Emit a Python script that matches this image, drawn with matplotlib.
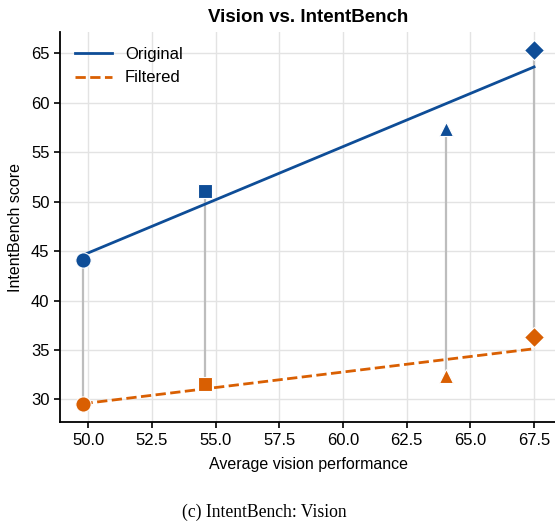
import numpy as np
import matplotlib
matplotlib.use('Agg')
import matplotlib.pyplot as plt

plt.rcParams['font.family'] = ['Liberation Sans', 'DejaVu Sans']

# Data
vision_perf = [49.78, 54.6, 64.05, 67.5]
original_score = [44.1, 51.1, 57.3, 65.35]
filtered_score = [29.5, 31.6, 32.4, 36.3]
markers = ['o', 's', '^', 'D']
marker_sizes = [11, 10.5, 10.5, 10]

blue = '#0e4d97'
orange = '#d95f02'

fig = plt.figure(figsize=(5.55, 5.25), dpi=100)
ax = fig.add_axes([0.108, 0.196, 0.895, 0.743])

# gray connectors between original and filtered
for x, yo, yf in zip(vision_perf, original_score, filtered_score):
    ax.plot([x, x], [yf, yo], color='#bdbdbd', lw=1.6, zorder=1)

# linear fits
xs = np.array([min(vision_perf), max(vision_perf)])
p_orig = np.polyfit(vision_perf, original_score, 1)
p_filt = np.polyfit(vision_perf, filtered_score, 1)
ax.plot(xs, np.polyval(p_orig, xs), color=blue, lw=2, label='Original', zorder=2)
ax.plot(xs, np.polyval(p_filt, xs), color=orange, lw=2, ls='--', label='Filtered', zorder=2)

for x, yo, yf, m, ms in zip(vision_perf, original_score, filtered_score, markers, marker_sizes):
    ax.plot(x, yo, marker=m, ms=ms, color=blue, mec='white', mew=0.8, ls='none', zorder=3)
    ax.plot(x, yf, marker=m, ms=ms, color=orange, mec='white', mew=0.8, ls='none', zorder=3)

ax.set_xticks(np.arange(50, 68, 2.5))
ax.set_xticklabels(['{:.1f}'.format(v) for v in np.arange(50, 68, 2.5)])
ax.set_yticks(range(30, 66, 5))
ax.tick_params(labelsize=12, width=1.2, length=4)
ax.grid(True, color='#e3e3e3', lw=1)
ax.set_axisbelow(True)
for s in ['top', 'right']:
    ax.spines[s].set_visible(False)
for s in ['left', 'bottom']:
    ax.spines[s].set_linewidth(1.3)

ax.set_xlabel('Average vision performance', fontsize=11.5, labelpad=7)
ax.set_ylabel('IntentBench score', fontsize=11.5, labelpad=6)
ax.set_title('Vision vs. IntentBench', fontsize=13.5, fontweight='bold', pad=7)
ax.legend(loc='upper left', frameon=False, fontsize=12, handlelength=2.2)

fig.text(0.476, 0.025, '(c) IntentBench: Vision', fontsize=12.7,
         family='Liberation Serif', ha='center', va='center')

fig.savefig('out.png', dpi=100)
